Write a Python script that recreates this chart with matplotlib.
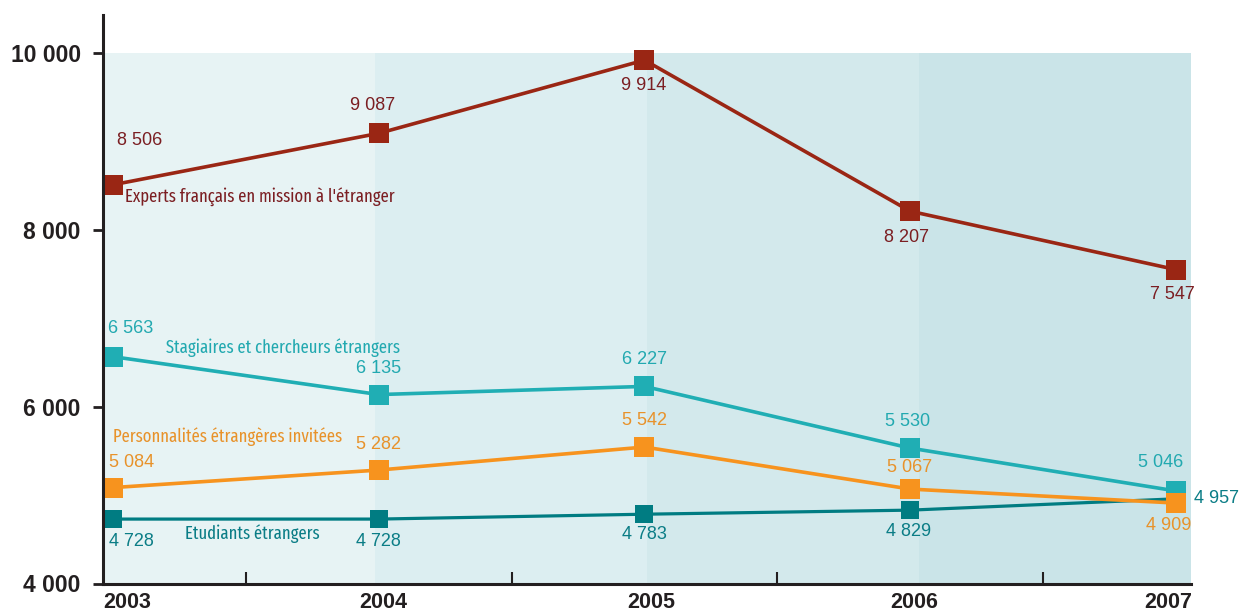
import matplotlib
matplotlib.use("Agg")
import matplotlib.pyplot as plt
import numpy as np

years = [2003, 2004, 2005, 2006, 2007]
experts = [8506, 9087, 9914, 8207, 7547]
stagiaires = [6563, 6135, 6227, 5530, 5046]
personnalites = [5084, 5282, 5542, 5067, 4909]
etudiants = [4728, 4728, 4783, 4829, 4957]

series_names = ["Experts français en mission à l'étranger",
                "Stagiaires et chercheurs étrangers",
                "Personnalités étrangères invitées",
                "Etudiants étrangers"]
yticks = [4000, 6000, 8000, 10000]
ytick_labels = ["4 000", "6 000", "8 000", "10 000"]


def fmt(v):
    return f"{v:,}".replace(",", " ")


fig = plt.figure(figsize=(12.4, 6.13), dpi=100)
ax = fig.add_axes([103 / 1240, 29.5 / 613, 1088 / 1240, 568.5 / 613])
x0, x1 = 2002.962, 2007.057
ax.set_xlim(x0, x1)
ax.set_ylim(4000, 10424)

band_colors = ["#E7F3F4", "#DCEEF1", "#D3E9EC", "#CAE4E8"]
edges = np.linspace(x0, x1, 5)
for i, c in enumerate(band_colors):
    ax.fill_between([edges[i], edges[i + 1]], 4000, 10000, color=c, lw=0, zorder=0)

val_font = ['Liberation Sans', 'DejaVu Sans']
label_font = ['Fira Sans Extra Condensed', 'Roboto Condensed', 'DejaVu Sans']

specs = [
    (etudiants, "#007C82", "#0B7D86", 13, 2.3,
     [(18, -22), (0, -22), (0, -20), (-2, -21), (18, 0)], (72, -15), 3),
    (stagiaires, "#20AEB4", "#22A9B0", 15, 2.6,
     [(18, 28), (0, 26), (0, 27), (-3, 27), (-15, 28)], (53, 9), 4),
    (personnalites, "#F7931E", "#E8922A", 15, 2.6,
     [(18, 25), (0, 26), (0, 27), (-1, 22), (-7, -22)], (0, 51), 5),
    (experts, "#9A2614", "#7B1E22", 15, 2.6,
     [(27, 44), (-6, 28), (-1, -25), (-4, -26), (-3, -25)], (12, -13), 6),
]
name_map = {id(etudiants): series_names[3], id(stagiaires): series_names[1],
            id(personnalites): series_names[2], id(experts): series_names[0]}

for data, lc, tc, ms, lw, offs, noff, z in specs:
    ax.plot(years, data, color=lc, lw=lw, marker='s', ms=ms,
            markeredgewidth=0, zorder=z, clip_on=False)
    for i, (xv, yv) in enumerate(zip(years, data)):
        dx, dy = offs[i]
        ha = 'left' if (data is etudiants and i == 4) else 'center'
        ax.annotate(fmt(yv), (xv, yv), xytext=(dx, dy), textcoords='offset pixels',
                    ha=ha, va='center', fontsize=13, color=tc, family=val_font,
                    zorder=10, annotation_clip=False)
    ax.annotate(name_map[id(data)], (years[0], data[0]), xytext=noff,
                textcoords='offset pixels', ha='left', va='center',
                fontsize=13, color=tc, family=label_font, zorder=10)

for s in ['top', 'right']:
    ax.spines[s].set_visible(False)
for s in ['left', 'bottom']:
    ax.spines[s].set_linewidth(2.2)
    ax.spines[s].set_color('#231F20')
    ax.spines[s].set_zorder(20)

ax.set_yticks(yticks)
ax.set_yticklabels(ytick_labels, fontsize=16.5, fontweight='bold', family=val_font,
                   color='#231F20')
ax.tick_params(axis='y', direction='out', length=7, width=2, color='#231F20', pad=9)

ax.set_xticks([])
ax.set_xticks([2003.5, 2004.5, 2005.5, 2006.5], minor=True)
ax.tick_params(axis='x', which='minor', direction='in', length=9, width=1.5,
               color='#231F20')
label_offsets = [14, 4, 7, 4, -8]
for yr, dx in zip(years, label_offsets):
    ax.annotate(str(yr), (yr, 0), xycoords=('data', 'axes fraction'),
                xytext=(dx, -9), textcoords='offset pixels', ha='center', va='top',
                fontsize=15.5, fontweight='bold', family=val_font, color='#231F20',
                annotation_clip=False)

fig.savefig("out.png", dpi=100)
